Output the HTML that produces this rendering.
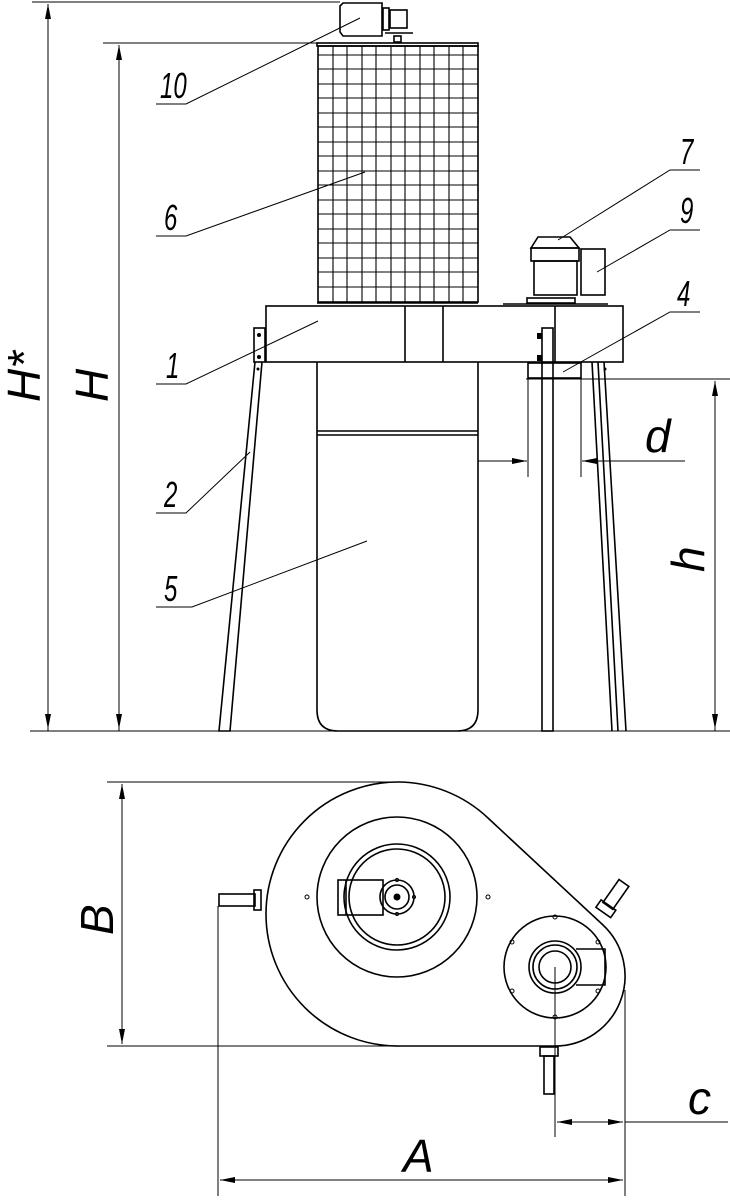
<!DOCTYPE html>
<html><head><meta charset="utf-8"><style>
html,body{margin:0;padding:0;background:#fff;}
svg{display:block;}
text{font-family:"Liberation Sans",sans-serif;font-style:italic;fill:#000;}
</style></head><body>
<svg width="730" height="1200" viewBox="0 0 730 1200" xmlns="http://www.w3.org/2000/svg">
<defs>
<marker id="ar" viewBox="0 0 10 4" refX="10" refY="2" markerWidth="20" markerHeight="6" markerUnits="userSpaceOnUse" orient="auto"><path d="M0,0 L10,2 L0,4 Z" fill="#000"/></marker>
</defs>
<g stroke="#000" fill="none" stroke-width="1">
<line x1="32" y1="2" x2="340" y2="2"/>
<line x1="103" y1="43" x2="317" y2="43"/>
<line x1="30" y1="731" x2="730" y2="731"/>
<line x1="48" y1="731" x2="48" y2="4" marker-end="url(#ar)"/>
<line x1="48" y1="4" x2="48" y2="729" marker-end="url(#ar)"/>
<line x1="119" y1="731" x2="119" y2="45" marker-end="url(#ar)"/>
<line x1="119" y1="45" x2="119" y2="729" marker-end="url(#ar)"/>
<line x1="526" y1="379" x2="730" y2="379"/>
<line x1="715" y1="731" x2="715" y2="381" marker-end="url(#ar)"/>
<line x1="715" y1="381" x2="715" y2="729" marker-end="url(#ar)"/>
<line x1="528" y1="379" x2="528" y2="477"/>
<line x1="581" y1="379" x2="581" y2="477"/>
<line x1="478" y1="461" x2="527" y2="461" marker-end="url(#ar)"/>
<line x1="685" y1="461" x2="582" y2="461" marker-end="url(#ar)"/>
</g>
<g stroke="#000" fill="none" stroke-width="1.6">
<path d="M340,6 L343,3 L382,3 L382,36 L343,36 L340,32 Z"/>
<rect x="383" y="8" width="6" height="22"/>
<rect x="390" y="10" width="17" height="18"/>
<line x1="385" y1="33" x2="413" y2="33"/>
<rect x="394" y="36" width="7" height="6"/>
<rect x="317" y="43" width="161" height="3"/>
<rect x="318" y="46" width="160" height="256"/>
<line x1="317" y1="303" x2="478" y2="303"/>
</g>
<g stroke="#000" stroke-width="1.1" fill="none">
<path d="M333,46V302M347,46V302M362,46V302M376,46V302M391,46V302M405,46V302M420,46V302M434,46V302M449,46V302M463,46V302"/>
<path d="M318,55H478M318,69H478M318,84H478M318,98H478M318,113H478M318,127H478M318,142H478M318,156H478M318,171H478M318,185H478M318,200H478M318,214H478M318,229H478M318,243H478M318,258H478M318,272H478M318,287H478"/>
</g>
<g stroke="#000" fill="none" stroke-width="1.6">
<rect x="266" y="306" width="357" height="56"/>
<line x1="405" y1="306" x2="405" y2="362"/>
<line x1="443" y1="306" x2="443" y2="362"/>
<line x1="555" y1="306" x2="555" y2="362"/>
<line x1="503" y1="304" x2="608" y2="304"/>
<path d="M531,248 L538,237 L570,237 L579,248 Z"/>
<rect x="531" y="248" width="48" height="13"/>
<rect x="534" y="261" width="43" height="34"/>
<rect x="527" y="298" width="48" height="5"/>
<rect x="581" y="249" width="24" height="46"/>
<path d="M317,362 V710 Q317,731 338,731 H457 Q478,731 478,710 V362"/>
<line x1="317" y1="431" x2="478" y2="431"/>
<line x1="317" y1="435" x2="478" y2="435"/>
<rect x="254" y="328" width="11" height="34"/>
<path d="M255,362 L219,731 L230,731 L262,362"/>
<rect x="542" y="328" width="11" height="403"/>
<path d="M592,362 L612,731 M598,362 L618,731 M604,362 L626,731"/>
<rect x="528" y="363" width="53" height="15"/>
</g>
<g fill="#000">
<circle cx="259" cy="335" r="2"/><circle cx="259" cy="357" r="2"/><circle cx="258" cy="369" r="1.5"/>
<circle cx="605" cy="369" r="1.5"/>
<rect x="537" y="333" width="5" height="6"/><rect x="537" y="355" width="5" height="6"/>
</g>
<g stroke="#000" stroke-width="1" fill="none">
<path d="M156,104 H186 L360,18"/>
<path d="M156,236 H186 L365,172"/>
<path d="M156,384 H186 L318,321"/>
<path d="M156,513 H186 L250,452"/>
<path d="M156,607 H192 L367,541"/>
<path d="M700,170 H670 L558,240"/>
<path d="M700,230 H670 L597,272"/>
<path d="M700,312 H670 L563,372"/>
</g>
<g font-size="30">
<text x="160" y="98" transform="translate(160,98) scale(0.8,1.2) translate(-160,-98)">10</text>
<text x="164" y="230" transform="translate(164,230) scale(0.8,1.2) translate(-164,-230)">6</text>
<text x="166" y="378" transform="translate(166,378) scale(0.8,1.2) translate(-166,-378)">1</text>
<text x="164" y="507" transform="translate(164,507) scale(0.8,1.2) translate(-164,-507)">2</text>
<text x="164" y="601" transform="translate(164,601) scale(0.8,1.2) translate(-164,-601)">5</text>
<text x="680" y="164" transform="translate(680,164) scale(0.8,1.2) translate(-680,-164)">7</text>
<text x="680" y="223" transform="translate(680,223) scale(0.8,1.2) translate(-680,-223)">9</text>
<text x="677" y="306" transform="translate(677,306) scale(0.8,1.2) translate(-677,-306)">4</text>
</g>
<g font-size="46">
<text transform="translate(40,402) rotate(-90)">H*</text>
<text transform="translate(108,402) rotate(-90)">H</text>
<text transform="translate(704,572) rotate(-90)">h</text>
<text x="645" y="452">d</text>
<text transform="translate(113,935) rotate(-90)">B</text>
<text x="403" y="1172">A</text>
<text x="688" y="1114">c</text>
</g>
<g stroke="#000" stroke-width="1" fill="none">
<line x1="107" y1="782" x2="400" y2="782"/>
<line x1="107" y1="1046" x2="400" y2="1046"/>
<line x1="122" y1="914" x2="122" y2="784" marker-end="url(#ar)"/>
<line x1="122" y1="914" x2="122" y2="1044" marker-end="url(#ar)"/>
<line x1="218" y1="906" x2="218" y2="1196"/>
<line x1="625" y1="990" x2="625" y2="1196"/>
<line x1="555" y1="967" x2="555" y2="1137"/>
<line x1="420" y1="1180" x2="220" y2="1180" marker-end="url(#ar)"/>
<line x1="420" y1="1180" x2="623" y2="1180" marker-end="url(#ar)"/>
<line x1="590" y1="1122" x2="557" y2="1122" marker-end="url(#ar)"/>
<line x1="590" y1="1122" x2="623" y2="1122" marker-end="url(#ar)"/>
<line x1="625" y1="1122" x2="728" y2="1122"/>
</g>
<g stroke="#000" stroke-width="1.6" fill="none">
<path d="M400,1046 A132,132 0 0 1 266,914 A132,132 0 0 1 398,782 A132,132 0 0 1 488,818 L603,925 A70,70 0 0 1 555,1046 Z"/>
<circle cx="397" cy="897" r="80"/>
<circle cx="397" cy="897" r="53"/>
<circle cx="397" cy="897" r="48"/>
<rect x="338" y="880" width="45" height="35"/>
<line x1="346" y1="880" x2="346" y2="915"/>
<circle cx="397" cy="897" r="17"/>
<circle cx="397" cy="897" r="12"/>
<circle cx="555" cy="967" r="51"/>
<circle cx="555" cy="967" r="26"/>
<circle cx="555" cy="967" r="22"/>
<circle cx="555" cy="967" r="16"/>
<path d="M576,949 H605 V985 H576"/>
<rect x="219" y="894" width="36" height="12"/>
<rect x="254" y="890" width="7" height="20"/>
<rect x="544" y="1056" width="10" height="38"/>
<rect x="540" y="1047" width="18" height="9"/>
<g transform="translate(605,910) rotate(35)">
<rect x="-6" y="-33" width="12" height="28"/>
<rect x="-9" y="-6" width="18" height="9"/>
</g>
</g>
<g fill="#000">
<circle cx="397" cy="897" r="3.5"/>
</g>
<g stroke="#000" stroke-width="1" fill="none">
<circle cx="307" cy="897" r="2"/><circle cx="488" cy="897" r="2"/>
<circle cx="397" cy="880" r="1.5"/><circle cx="397" cy="914" r="1.5"/><circle cx="414" cy="897" r="1.5"/>
<circle cx="555" cy="917" r="2"/><circle cx="555" cy="1017" r="2"/>
<circle cx="512" cy="942" r="2"/><circle cx="598" cy="942" r="2"/>
<circle cx="512" cy="991" r="2"/><circle cx="598" cy="991" r="2"/>
</g>
</svg>
</body></html>
